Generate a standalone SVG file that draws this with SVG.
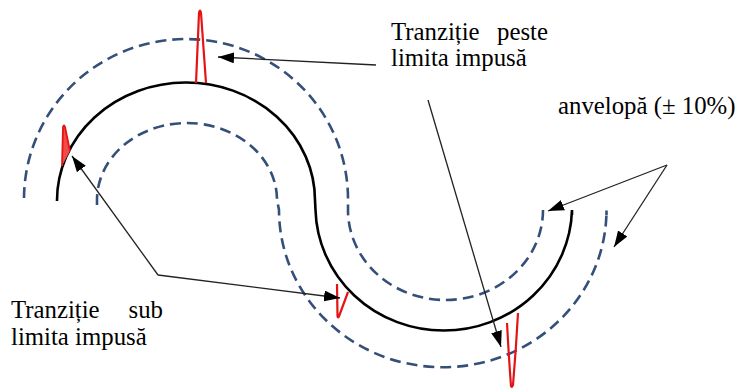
<svg xmlns="http://www.w3.org/2000/svg" width="735" height="388" viewBox="0 0 735 388">
  <style>
    .lbl { font-family: "Liberation Serif", "Times New Roman", serif; font-size: 24.8px; fill: #000; }
    .env { fill: none; stroke: #34507a; stroke-width: 2.6; stroke-dasharray: 11 6; }
    .traj { fill: none; stroke: #000; stroke-width: 2.6; }
    .spike { fill: none; stroke: #e41414; stroke-width: 2.2; stroke-linejoin: round; }
    .conn { fill: none; stroke: #222; stroke-width: 1.3; }
  </style>
  <defs>
    <marker id="ah" viewBox="0 0 16 11" refX="16" refY="5.5" markerWidth="16" markerHeight="11" orient="auto" markerUnits="userSpaceOnUse">
      <path d="M0,0 L16,5.5 L0,11 z" fill="#000"/>
    </marker>
  </defs>
  <rect width="735" height="388" fill="#fff"/>

  <g id="envelope">
    <path class="env" d="M24,198 A162,160 0 0 1 348,200 L348,210 A97.5,90 0 0 0 543,210 L543,214"/>
    <path class="env" d="M97,205 L97,200 A90,77 0 0 1 277,200 L279,210 A163.5,157 0 0 0 606.5,210 L606.5,215"/>
  </g>

  <g id="trajectory">
    <path class="traj" d="M57,201 A129,118 0 0 1 315,200 L315.5,210 A128.3,124 0 0 0 572,210 L572,215"/>
  </g>

  <g id="transients">
    <path class="spike" d="M196,83 L199,13 Q200,8 201,13 L206,83"/>
    <path d="M62,166 L63,127 Q64,124 65,127 L70,151" fill="#f04a4a" stroke="#e41414" stroke-width="1.8" stroke-linejoin="round"/>
    <path class="spike" d="M337,284 L337.5,316 Q338,319 339.5,315 L348,292"/>
    <path class="spike" stroke-width="2.6" d="M507,323 Q509,360 511,386 Q512,388 513,385 Q516,350 518,313"/>
  </g>

  <g id="connectors">
    <line class="conn" x1="376" y1="65" x2="218" y2="57" marker-end="url(#ah)"/>
    <line class="conn" x1="428" y1="100" x2="501" y2="347" marker-end="url(#ah)"/>
    <polyline class="conn" points="158,275 72,156" marker-end="url(#ah)"/>
    <polyline class="conn" points="158,275 340,298" marker-end="url(#ah)"/>
    <line class="conn" x1="667" y1="165" x2="548" y2="211" marker-end="url(#ah)"/>
    <line class="conn" x1="667" y1="165" x2="614" y2="247" marker-end="url(#ah)"/>
  </g>

  <g id="label-peste">
    <text class="lbl" x="391" y="40">Tranziție</text>
    <text class="lbl" x="548" y="40" text-anchor="end">peste</text>
    <text class="lbl" x="391" y="66">limita impusă</text>
  </g>
  <g id="label-anvelopa">
    <text class="lbl" x="558" y="114">anvelopă (± 10%)</text>
  </g>
  <g id="label-sub">
    <text class="lbl" x="11" y="318">Tranziție</text>
    <text class="lbl" x="163" y="318" text-anchor="end">sub</text>
    <text class="lbl" x="11" y="345">limita impusă</text>
  </g>
</svg>
